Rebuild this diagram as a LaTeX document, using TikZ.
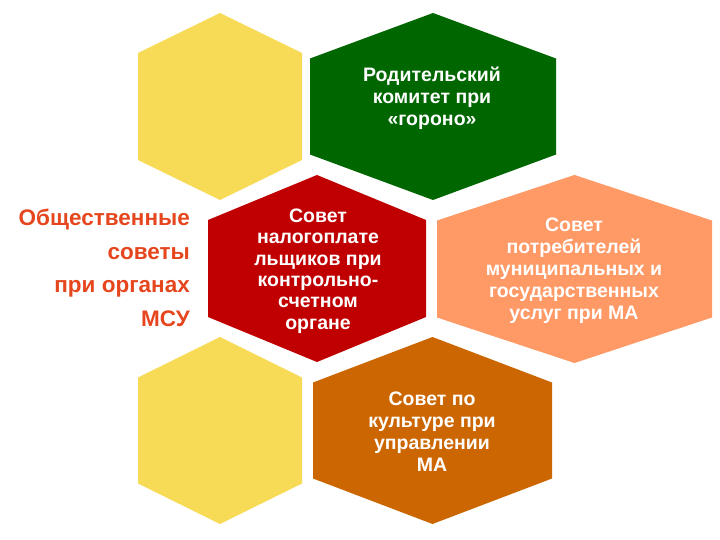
\documentclass[tikz,border=0pt]{standalone}
\usepackage{fontspec}
\setmainfont{Liberation Sans}
\definecolor{hyellow}{HTML}{F7DA55}
\definecolor{hgreen}{HTML}{006600}
\definecolor{hred}{HTML}{C00000}
\definecolor{hsalmon}{HTML}{FF9966}
\definecolor{hbrown}{HTML}{CC6600}
\definecolor{ltext}{HTML}{E5461E}
\newcommand\hexfill[6]{%
  \fill[#6] (#1,#2-#4) -- (#1+#3,#2-#5) -- (#1+#3,#2+#5) -- (#1,#2+#4) -- (#1-#3,#2+#5) -- (#1-#3,#2-#5) -- cycle;}
\begin{document}
\begin{tikzpicture}[x=1pt,y=-1pt,
  hextext/.style={text=white, font=\bfseries\fontsize{19.5}{22}\selectfont, align=center, inner sep=0pt},
  lefttext/.style={text=ltext, font=\bfseries\fontsize{22.5}{33.5}\selectfont, align=right, inner sep=0pt}]
\useasboundingbox (0,0) rectangle (720,540);
\hexfill{220}{106.5}{82}{93.5}{53.5}{hyellow}
\hexfill{433}{106.5}{123}{93.5}{48}{hgreen}
\hexfill{317}{268.5}{109}{93.5}{48.5}{hred}
\hexfill{574.5}{269}{137.5}{94}{48.5}{hsalmon}
\hexfill{220}{430.5}{82}{93.5}{53}{hyellow}
\hexfill{432.5}{430.5}{119.5}{93.5}{48}{hbrown}
\node[hextext] (green) at (432,98) {Родительский\\комитет при\\«гороно»};
\node[hextext, font=\bfseries\fontsize{19.5}{21.3}\selectfont] (red) at (318,271) {Совет\\налогоплате\\льщиков при\\контрольно-\\счетном\\органе};
\node[hextext] (salmon) at (574,271) {Совет\\потребителей\\муниципальных и\\государственных\\услуг при МА};
\node[hextext] (brown) at (432,432) {Совет по\\культуре при\\управлении\\МА};
\node[lefttext, anchor=east] (msu) at (190,268) {Общественные\\советы\\при органах\\МСУ};
\end{tikzpicture}
\end{document}
